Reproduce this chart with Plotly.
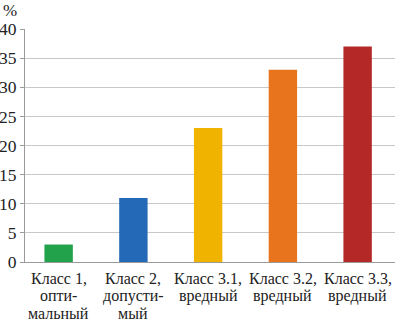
import plotly.graph_objects as go

label_lines = [["Класс 1,", "опти-", "мальный"],
               ["Класс 2,", "допусти-", "мый"],
               ["Класс 3.1,", "вредный"],
               ["Класс 3.2,", "вредный"],
               ["Класс 3.3,", "вредный"]]
categories = ["<br>".join(l) for l in label_lines]
values = [3, 11, 23, 33, 37]
colors = ["#22a24a", "#2468b8", "#f0b400", "#e8741e", "#b42828"]
y_ticks = [0, 5, 10, 15, 20, 25, 30, 35, 40]

font = "Times New Roman, Liberation Serif, DejaVu Serif, serif"

fig = go.Figure(go.Bar(x=categories, y=values, marker=dict(color=colors, line=dict(width=0)),
                       width=0.38))
fig.update_layout(
    width=404, height=321,
    margin=dict(l=25, r=9, t=29, b=59, autoexpand=False),
    plot_bgcolor="white", paper_bgcolor="white",
    showlegend=False,
    font=dict(family=font, size=16, color="#222"),
)
fig.update_yaxes(range=[0, 40], tickvals=y_ticks, showgrid=True, gridcolor="#c8c8c8", gridwidth=1,
                 showline=True, linecolor="#9a9a9a", linewidth=1, ticks="outside", ticklen=4,
                 tickcolor="#9a9a9a", tickfont=dict(family=font, size=17.5, color="#222"),
                 zeroline=False, automargin=False)
fig.update_xaxes(range=[-0.45, 4.5], showline=True, linecolor="#9a9a9a", linewidth=1, ticks="",
                 automargin=False, showticklabels=False)
for cat, lines in zip(categories, label_lines):
    for i, line in enumerate(lines):
        fig.add_annotation(text=line, x=cat, y=0, xref="x", yref="y", xanchor="center",
                           yanchor="middle", yshift=-(16 + i * 17.5), showarrow=False,
                           font=dict(family=font, size=16, color="#222"))
fig.add_annotation(text="%", x=0, y=1, xref="paper", yref="paper", xanchor="left", yanchor="bottom",
                   xshift=-24, yshift=7, showarrow=False, font=dict(family=font, size=17, color="#222"))
fig.write_html("out.html", config={"displayModeBar": False},
               post_script="document.body.style.margin='0';")
